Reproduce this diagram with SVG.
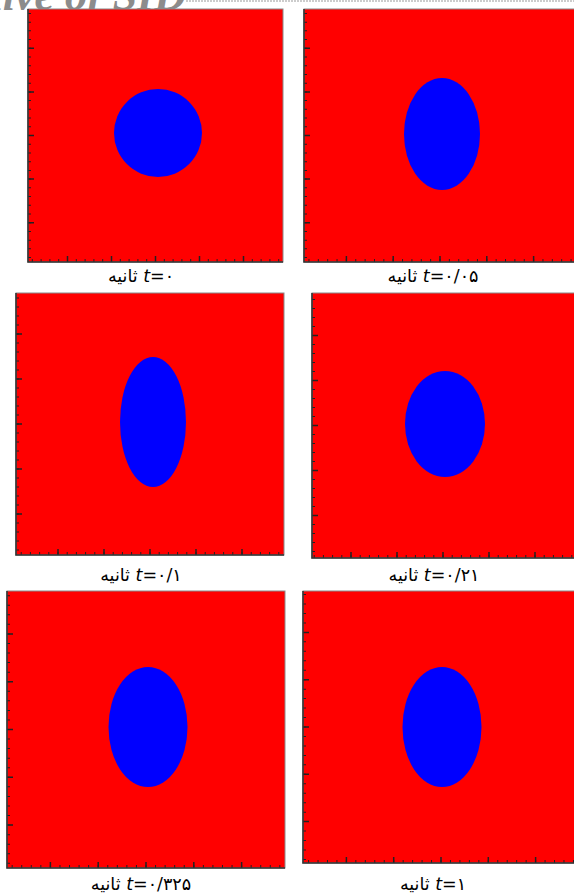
<svg xmlns="http://www.w3.org/2000/svg" width="574" height="895" viewBox="0 0 574 895">
<style>
.bg{fill:#ff0000;stroke:#8a8a8a;stroke-width:1}
.ax{stroke:#333;stroke-width:1.6;fill:none}
.drop{fill:#0000ff}
.mn{stroke:#222;stroke-width:3;fill:none}
.mj{stroke:#222;stroke-width:6;fill:none}
.lbl{font-family:"DejaVu Sans","Noto Sans",sans-serif;font-size:17.5px;fill:#000}
.wm{font-family:"Liberation Serif",serif;font-style:italic;font-weight:bold;font-size:44px;fill:#8c8c8c}
</style>
<rect width="574" height="895" fill="#fff"/>
<g id="watermark">
<text class="wm" x="186" y="10" text-anchor="end">Archive of SID</text>
<line x1="186" y1="1" x2="574" y2="1" stroke="#999" stroke-width="1" stroke-dasharray="2 1"/>
</g>

<g id="panel1">
<rect class="bg" x="28" y="9" width="255" height="253"/>
<ellipse class="drop" cx="158" cy="133" rx="44" ry="44"/>
<line class="mn" x1="29.5" y1="9" x2="29.5" y2="262" stroke-dasharray="1 7.72" stroke-dashoffset="4.8"/>
<line class="mj" x1="31" y1="9" x2="31" y2="262" stroke-dasharray="1.5 42.1" stroke-dashoffset="5.05"/>
<line class="mn" x1="28" y1="260.5" x2="283" y2="260.5" stroke-dasharray="1 7.8" stroke-dashoffset="5"/>
<line class="mj" x1="28" y1="259" x2="283" y2="259" stroke-dasharray="1.5 42.5" stroke-dashoffset="5.25"/>
<path class="ax" d="M28,9 V262 H283"/>
<text class="lbl" x="141" y="282" text-anchor="middle" direction="rtl"><tspan font-style="italic">t</tspan>=۰ ثانیه</text>
</g>

<g id="panel2">
<rect class="bg" x="304" y="9" width="272" height="253"/>
<ellipse class="drop" cx="442" cy="134" rx="38" ry="56"/>
<line class="mn" x1="305.5" y1="9" x2="305.5" y2="262" stroke-dasharray="1 7.72" stroke-dashoffset="4.8"/>
<line class="mj" x1="307" y1="9" x2="307" y2="262" stroke-dasharray="1.5 42.1" stroke-dashoffset="5.05"/>
<line class="mn" x1="304" y1="260.5" x2="576" y2="260.5" stroke-dasharray="1 8.36" stroke-dashoffset="4.9"/>
<line class="mj" x1="304" y1="259" x2="576" y2="259" stroke-dasharray="1.5 45.3" stroke-dashoffset="5.15"/>
<path class="ax" d="M304,9 V262 H576"/>
<text class="lbl" x="433" y="282" text-anchor="middle" direction="rtl"><tspan font-style="italic">t</tspan>=۰/۰۵ ثانیه</text>
</g>

<g id="panel3">
<rect class="bg" x="16" y="293" width="268" height="262"/>
<ellipse class="drop" cx="153" cy="422" rx="33" ry="65"/>
<line class="mn" x1="17.5" y1="293" x2="17.5" y2="555" stroke-dasharray="1 8" stroke-dashoffset="4.5"/>
<line class="mj" x1="19" y1="293" x2="19" y2="555" stroke-dasharray="1.5 43.5" stroke-dashoffset="4.75"/>
<line class="mn" x1="16" y1="553.5" x2="284" y2="553.5" stroke-dasharray="1 8.2" stroke-dashoffset="4.5"/>
<line class="mj" x1="16" y1="552" x2="284" y2="552" stroke-dasharray="1.5 44.5" stroke-dashoffset="4.75"/>
<path class="ax" d="M16,293 V555 H284"/>
<text class="lbl" x="141" y="581" text-anchor="middle" direction="rtl"><tspan font-style="italic">t</tspan>=۰/۱ ثانیه</text>
</g>

<g id="panel4">
<rect class="bg" x="312" y="293" width="264" height="265"/>
<ellipse class="drop" cx="445" cy="424" rx="40" ry="53"/>
<line class="mn" x1="313.5" y1="293" x2="313.5" y2="558" stroke-dasharray="1 8" stroke-dashoffset="3"/>
<line class="mj" x1="315" y1="293" x2="315" y2="558" stroke-dasharray="1.5 43.5" stroke-dashoffset="3.25"/>
<line class="mn" x1="312" y1="556.5" x2="576" y2="556.5" stroke-dasharray="1 8.2" stroke-dashoffset="7.5"/>
<line class="mj" x1="312" y1="555" x2="576" y2="555" stroke-dasharray="1.5 44.5" stroke-dashoffset="7.75"/>
<path class="ax" d="M312,293 V558 H576"/>
<text class="lbl" x="434" y="581" text-anchor="middle" direction="rtl"><tspan font-style="italic">t</tspan>=۰/۲۱ ثانیه</text>
</g>

<g id="panel5">
<rect class="bg" x="7" y="591" width="278" height="277"/>
<ellipse class="drop" cx="148" cy="727" rx="39.5" ry="60"/>
<line class="mn" x1="8.5" y1="591" x2="8.5" y2="868" stroke-dasharray="1 8.56" stroke-dashoffset="5.4"/>
<line class="mj" x1="10" y1="591" x2="10" y2="868" stroke-dasharray="1.5 46.3" stroke-dashoffset="5.65"/>
<line class="mn" x1="7" y1="866.5" x2="285" y2="866.5" stroke-dasharray="1 8.56" stroke-dashoffset="4.9"/>
<line class="mj" x1="7" y1="865" x2="285" y2="865" stroke-dasharray="1.5 46.3" stroke-dashoffset="5.15"/>
<path class="ax" d="M7,591 V868 H285"/>
<text class="lbl" x="141" y="890" text-anchor="middle" direction="rtl"><tspan font-style="italic">t</tspan>=۰/۳۲۵ ثانیه</text>
</g>

<g id="panel6">
<rect class="bg" x="303" y="591" width="276" height="272"/>
<ellipse class="drop" cx="442" cy="727" rx="39.5" ry="60"/>
<line class="mn" x1="304.5" y1="591" x2="304.5" y2="863" stroke-dasharray="1 8.46" stroke-dashoffset="6.4"/>
<line class="mj" x1="306" y1="591" x2="306" y2="863" stroke-dasharray="1.5 45.8" stroke-dashoffset="6.65"/>
<line class="mn" x1="303" y1="861.5" x2="579" y2="861.5" stroke-dasharray="1 8.46" stroke-dashoffset="4.4"/>
<line class="mj" x1="303" y1="860" x2="579" y2="860" stroke-dasharray="1.5 45.8" stroke-dashoffset="4.65"/>
<path class="ax" d="M303,591 V863 H579"/>
<text class="lbl" x="433" y="890" text-anchor="middle" direction="rtl"><tspan font-style="italic">t</tspan>=۱ ثانیه</text>
</g>
</svg>
